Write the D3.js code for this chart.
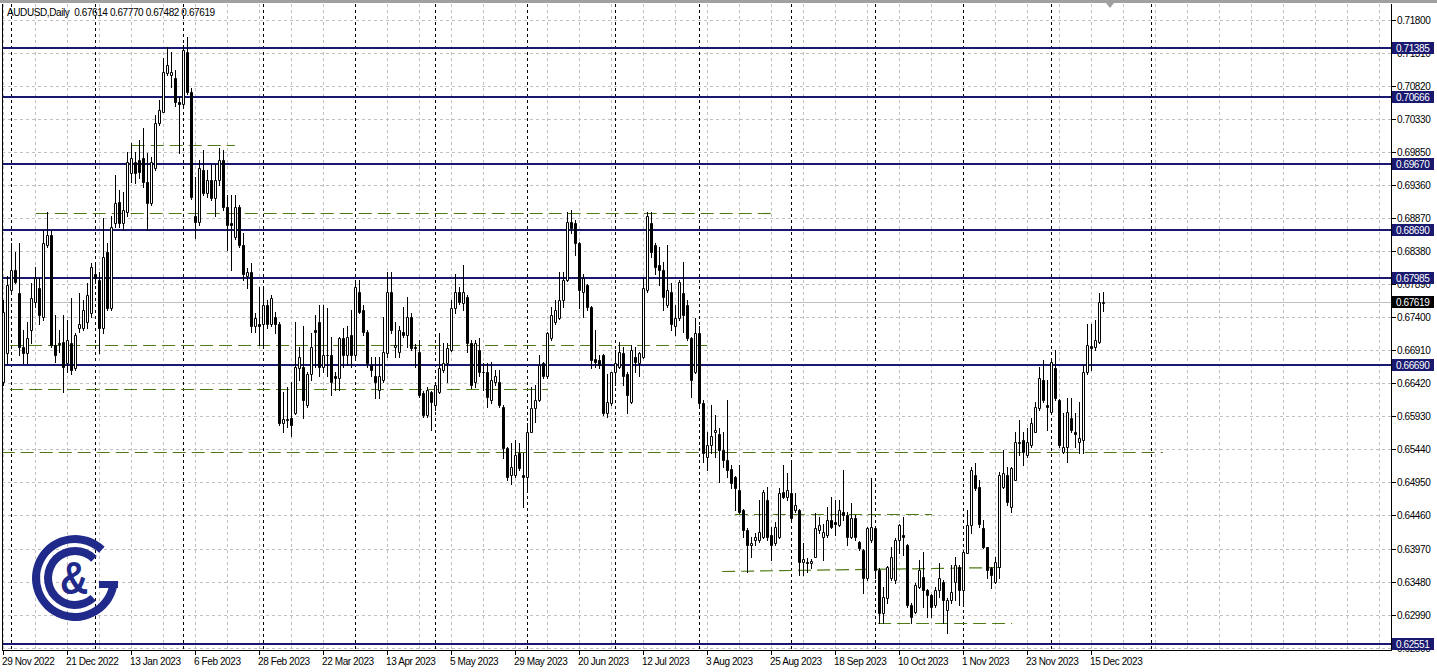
<!DOCTYPE html>
<html><head><meta charset="utf-8">
<script src="https://cdn.jsdelivr.net/npm/d3@7"></script>
<style>
html,body{margin:0;padding:0;background:#fff;overflow:hidden}
svg{display:block}
text{font-family:"Liberation Sans",Arial,sans-serif;font-size:10px;letter-spacing:-0.4px}
</style></head><body>
<svg id="c" width="1437" height="672"></svg>
<script>
// ---------- DATA ----------
const title = "AUDUSD,Daily  0.67614 0.67770 0.67482 0.67619";
const openP = [.6643,.6687,.6780,.6810,.6776,.6696,.6687,.6721,.6762,.6783,
 .6740,.6847,.6862,.6699,.6702,.6703,.6672,.6702,.6664,.6724,
 .6724,.6732,.6746,.6803,.6795,.6724,.6836,.6753,.6880,.6910,
 .6880,.6895,.6954,.6969,.6973,.6975,.6940,.6909,.6961,.7028,
 .7044,.7102,.7099,.7094,.7058,.7055,.7133,.7073,.6889,.6881,
 .6958,.6924,.6943,.6916,.6943,.6973,.6903,.6880,.6859,.6903,
 .6847,.6800,.6806,.6726,.6729,.6729,.6758,.6729,.6740,.6729,
 .6583,.6589,.6590,.6598,.6664,.6666,.6610,.6655,.6721,.6732,
 .6666,.6684,.6684,.6652,.6650,.6709,.6684,.6714,.6684,.6777,
 .6750,.6718,.6669,.6652,.6632,.6647,.6687,.6777,.6696,.6688,
 .6718,.6714,.6740,.6696,.6688,.6628,.6595,.6629,.6610,.6629,
 .6662,.6672,.6691,.6753,.6777,.6761,.6770,.6702,.6643,.6691,
 .6659,.6659,.6617,.6643,.6644,.6607,.6546,.6506,.6506,.6539,
 .6506,.6503,.6570,.6605,.6617,.6672,.6652,.6709,.6732,.6738,
 .6765,.6795,.6881,.6880,.6850,.6777,.6788,.6755,.6678,.6676,
 .6684,.6598,.6613,.6659,.6666,.6687,.6655,.6614,.6681,.6672,
 .6681,.6780,.6880,.6847,.6817,.6810,.6758,.6777,.6726,.6738,
 .6776,.6758,.6709,.6658,.6717,.6613,.6533,.6551,.6569,.6566,
 .6543,.6528,.6515,.6503,.6484,.6454,.6424,.6402,.6410,.6410,
 .6414,.6469,.6417,.6405,.6414,.6481,.6473,.6479,.6454,.6454,
 .6377,.6377,.6376,.6385,.6424,.6414,.6417,.6439,.6436,.6432,
 .6451,.6447,.6414,.6442,.6407,.6395,.6353,.6410,.6427,.6365,
 .6302,.6324,.6353,.6350,.6410,.6417,.6402,.6313,.6303,.6340,
 .6355,.6336,.6328,.6313,.6336,.6347,.6306,.6321,.6347,.6370,
 .6336,.6391,.6432,.6506,.6488,.6427,.6399,.6368,.6347,.6370,
 .6488,.6506,.6459,.6499,.6555,.6558,.6536,.6551,.6570,.6605,
 .6647,.6610,.6599,.6664,.6617,.6540,.6548,.6590,.6569,.6555,
 .6558,.6658,.6697,.6696,.6703,.67614];
const highP = [.6765,.6800,.6850,.6836,.6850,.6721,.6732,.6791,.6814,.6798,
 .6869,.6895,.6869,.6743,.6721,.6743,.6736,.6768,.6717,.6776,
 .6765,.6791,.6820,.6817,.6806,.6887,.6850,.6889,.6951,.6928,
 .6925,.6984,.6998,.6984,.7002,.7020,.6983,.6977,.7040,.7062,
 .7124,.7140,.7132,.7106,.7066,.7143,.7155,.7079,.6948,.6973,
 .6987,.6958,.6966,.6966,.6990,.6987,.6921,.6921,.6921,.6906,
 .6865,.6812,.6820,.6746,.6785,.6785,.6765,.6773,.6747,.6732,
 .6629,.6637,.6643,.6732,.6696,.6726,.6659,.6717,.6743,.6758,
 .6758,.6753,.6711,.6658,.6711,.6724,.6726,.6750,.6795,.6795,
 .6758,.6721,.6681,.6681,.6681,.6740,.6806,.6806,.6732,.6726,
 .6755,.6770,.6746,.6700,.6706,.6630,.6637,.6631,.6643,.6717,
 .6702,.6702,.6765,.6803,.6785,.6817,.6773,.6706,.6706,.6709,
 .6672,.6672,.6673,.6662,.6662,.6610,.6547,.6554,.6558,.6554,
 .6539,.6583,.6637,.6640,.6684,.6673,.6718,.6755,.6765,.6807,
 .6807,.6895,.6899,.6884,.6851,.6803,.6789,.6756,.6721,.6684,
 .6685,.6655,.6659,.6691,.6703,.6696,.6658,.6699,.6696,.6688,
 .6798,.6895,.6895,.6850,.6844,.6821,.6847,.6791,.6758,.6795,
 .6821,.6765,.6711,.6738,.6726,.6617,.6569,.6610,.6595,.6576,
 .6570,.6617,.6521,.6504,.6521,.6455,.6427,.6414,.6420,.6469,
 .6484,.6488,.6429,.6436,.6487,.6521,.6509,.6524,.6479,.6455,
 .6405,.6383,.6381,.6450,.6444,.6434,.6459,.6473,.6469,.6469,
 .6513,.6451,.6464,.6447,.6408,.6396,.6429,.6502,.6428,.6368,
 .6340,.6371,.6399,.6413,.6434,.6444,.6403,.6316,.6346,.6380,
 .6392,.6337,.6329,.6340,.6376,.6351,.6324,.6373,.6385,.6373,
 .6395,.6454,.6518,.6524,.6499,.6439,.6400,.6370,.6385,.6510,
 .6543,.6518,.6518,.6569,.6587,.6570,.6576,.6590,.6614,.6666,
 .6676,.6647,.6676,.6691,.6618,.6598,.6620,.6620,.6598,.6614,
 .6669,.6729,.6729,.6736,.6776,.67770];
const lowP = [.6640,.6672,.6777,.6790,.6684,.6672,.6672,.6702,.6755,.6729,
 .6736,.6844,.6696,.6673,.6688,.6629,.6659,.6655,.6662,.6718,
 .6721,.6724,.6740,.6791,.6687,.6717,.6750,.6750,.6874,.6874,
 .6869,.6889,.6940,.6939,.6946,.6933,.6869,.6906,.6958,.7025,
 .7043,.7099,.7081,.7052,.6983,.7052,.7070,.6915,.6857,.6877,
 .6921,.6918,.6913,.6889,.6936,.6899,.6839,.6810,.6856,.6844,
 .6795,.6783,.6718,.6718,.6699,.6694,.6724,.6726,.6717,.6580,
 .6569,.6577,.6563,.6596,.6647,.6590,.6607,.6647,.6666,.6652,
 .6658,.6652,.6625,.6632,.6632,.6666,.6669,.6666,.6681,.6746,
 .6714,.6666,.6652,.6620,.6620,.6644,.6681,.6717,.6681,.6681,
 .6711,.6696,.6691,.6666,.6622,.6592,.6592,.6573,.6602,.6628,
 .6658,.6643,.6690,.6746,.6760,.6750,.6688,.6635,.6637,.6652,
 .6632,.6607,.6613,.6640,.6607,.6531,.6499,.6492,.6503,.6513,
 .6459,.6481,.6569,.6584,.6616,.6650,.6650,.6706,.6729,.6737,
 .6755,.6794,.6865,.6832,.6753,.6740,.6750,.6664,.6666,.6664,
 .6595,.6592,.6610,.6640,.6664,.6640,.6598,.6613,.6658,.6652,
 .6679,.6777,.6829,.6803,.6788,.6750,.6755,.6721,.6714,.6736,
 .6718,.6706,.6622,.6657,.6610,.6525,.6513,.6539,.6533,.6496,
 .6518,.6503,.6487,.6454,.6450,.6414,.6362,.6385,.6402,.6407,
 .6413,.6410,.6380,.6402,.6413,.6472,.6469,.6441,.6451,.6358,
 .6358,.6362,.6368,.6384,.6420,.6380,.6414,.6427,.6417,.6431,
 .6439,.6402,.6413,.6410,.6395,.6331,.6350,.6407,.6353,.6287,
 .6287,.6317,.6350,.6346,.6391,.6388,.6310,.6287,.6302,.6338,
 .6310,.6295,.6295,.6310,.6325,.6287,.6272,.6317,.6321,.6313,
 .6317,.6390,.6420,.6484,.6429,.6398,.6353,.6338,.6346,.6353,
 .6487,.6462,.6451,.6498,.6536,.6521,.6533,.6548,.6569,.6602,
 .6614,.6573,.6598,.6617,.6548,.6539,.6525,.6569,.6548,.6539,
 .6539,.6655,.6662,.6691,.6702,.67482];
const closeP = [.6747,.6788,.6810,.6792,.6696,.6687,.6709,.6768,.6798,.6743,
 .6850,.6862,.6699,.6684,.6700,.6666,.6706,.6662,.6714,.6729,
 .6750,.6773,.6814,.6798,.6724,.6829,.6753,.6874,.6909,.6880,
 .6899,.6969,.6975,.6954,.6955,.6940,.6909,.6969,.7028,.7047,
 .7103,.7114,.7103,.7059,.7055,.7136,.7073,.6918,.6881,.6961,
 .6924,.6943,.6916,.6943,.6973,.6903,.6877,.6877,.6903,.6847,
 .6803,.6807,.6726,.6738,.6726,.6758,.6729,.6768,.6729,.6583,
 .6589,.6587,.6580,.6666,.6681,.6617,.6655,.6696,.6718,.6666,
 .6684,.6683,.6644,.6649,.6709,.6684,.6711,.6684,.6785,.6747,
 .6718,.6672,.6662,.6643,.6652,.6688,.6777,.6721,.6699,.6721,
 .6714,.6740,.6694,.6694,.6625,.6595,.6632,.6614,.6640,.6664,
 .6672,.6694,.6753,.6777,.6762,.6777,.6702,.6640,.6702,.6658,
 .6658,.6622,.6647,.6652,.6610,.6546,.6503,.6518,.6536,.6516,
 .6503,.6570,.6605,.6617,.6669,.6652,.6717,.6743,.6750,.6765,
 .6795,.6881,.6872,.6850,.6780,.6798,.6755,.6676,.6673,.6669,
 .6598,.6614,.6658,.6672,.6688,.6652,.6625,.6691,.6673,.6687,
 .6783,.6889,.6836,.6814,.6810,.6770,.6780,.6729,.6738,.6792,
 .6743,.6709,.6647,.6717,.6613,.6539,.6551,.6563,.6573,.6543,
 .6528,.6513,.6494,.6487,.6451,.6424,.6402,.6405,.6414,.6421,
 .6481,.6414,.6402,.6429,.6479,.6473,.6484,.6442,.6462,.6377,
 .6382,.6376,.6378,.6427,.6432,.6421,.6439,.6429,.6434,.6454,
 .6447,.6414,.6442,.6414,.6398,.6353,.6427,.6429,.6365,.6302,
 .6325,.6370,.6385,.6410,.6432,.6414,.6313,.6295,.6343,.6365,
 .6336,.6328,.6310,.6336,.6353,.6321,.6321,.6333,.6373,.6336,
 .6392,.6432,.6513,.6487,.6434,.6399,.6365,.6358,.6377,.6506,
 .6509,.6466,.6516,.6555,.6554,.6540,.6555,.6583,.6607,.6650,
 .6617,.6607,.6673,.6620,.6551,.6548,.6599,.6573,.6566,.6561,
 .6659,.6699,.6694,.6706,.6762,.67619];

const priceTicks = [0.71800,0.71310,0.70820,0.70330,0.69850,0.69360,0.68870,0.68380,0.67890,0.67400,
  0.66910,0.66420,0.65930,0.65440,0.64950,0.64460,0.63970,0.63480,0.62990,0.62500];
const priceTickLabels = ["0.71800","0.71310","0.70820","0.70330","0.69850","0.69360","0.68870","0.68380","0.67890","0.67400",
  "0.66910","0.66420","0.65930","0.65440","0.64950","0.64460","0.63970","0.63480","0.62990","0.62500"];
const levelPrices = [0.71385,0.70666,0.69670,0.68690,0.67985,0.66690,0.62551];
const levelLabels = ["0.71385","0.70666","0.69670","0.68690","0.67985","0.66690","0.62551"];
const lastPrice = 0.67619, lastLabel = "0.67619";

const dateTickIdx = [0,16,32,48,64,80,96,112,128,144,160,176,192,208,224,240,256,272];
const dateTickLabels = ["29 Nov 2022","21 Dec 2022","13 Jan 2023","6 Feb 2023","28 Feb 2023","22 Mar 2023",
  "13 Apr 2023","5 May 2023","29 May 2023","20 Jun 2023","12 Jul 2023","3 Aug 2023","25 Aug 2023",
  "18 Sep 2023","10 Oct 2023","1 Nov 2023","23 Nov 2023","15 Dec 2023"];
const monthStartIdx = [2,23,45,65,88,108,131,153,174,197,218,240,262,287];

// support / resistance (dashed green) : start bar, end bar, start price, end price
const srStartIdx = [8, 32, 1.6, 1.6, -0.5, 182.8, 179.6, 218.6];
const srEndIdx   = [192.3, 57.8, 176.6, 136, 289.8, 232.1, 249.6, 252.1];
const srStartP   = [0.68936, 0.69948, 0.66985, 0.66333, 0.65407, 0.64477, 0.63637, 0.62862];
const srEndP     = [0.68936, 0.69948, 0.66985, 0.66333, 0.65407, 0.64477, 0.63700, 0.62862];

// ---------- LAYOUT ----------
const W = 1437, H = 672;
const plotL = 2, plotR = 1391, plotT = 4, plotB = 650;
const x = d3.scaleLinear().domain([0, 1]).range([3.7, 7.7]);
const y = d3.scaleLinear().domain([0.718, 0.674]).range([20, 317]);
const col = i => Math.floor(x(i));
const ry = v => Math.round(y(v));

const svg = d3.select('#c');
svg.append('rect').attr('width', W).attr('height', H).attr('fill', '#fff');
svg.append('rect').attr('x', 0).attr('y', 0).attr('width', W).attr('height', 3).attr('fill', '#a0a0a0');

svg.append('clipPath').attr('id', 'clip').append('rect')
  .attr('x', plotL).attr('y', plotT).attr('width', plotR - plotL).attr('height', plotB - plotT);
const g = svg.append('g').attr('clip-path', 'url(#clip)');

// grid
g.append('g').selectAll('line').data(priceTicks).join('line')
  .attr('x1', plotL).attr('x2', plotR)
  .attr('y1', d => ry(d) + 0.5).attr('y2', d => ry(d) + 0.5)
  .attr('stroke', '#c0c0c0').attr('stroke-dasharray', '3,3');
const maxIdx = Math.ceil(x.invert(plotR));
g.append('g').selectAll('line').data(d3.range(0, maxIdx, 8)).join('line')
  .attr('x1', d => col(d) + 0.5).attr('x2', d => col(d) + 0.5)
  .attr('y1', plotT).attr('y2', plotB)
  .attr('stroke', '#c0c0c0').attr('stroke-dasharray', '3,3');
// period separators
g.append('g').selectAll('line').data(monthStartIdx).join('line')
  .attr('x1', d => col(d) + 0.5).attr('x2', d => col(d) + 0.5)
  .attr('y1', plotT).attr('y2', plotB)
  .attr('stroke', '#000').attr('stroke-dasharray', '3,3');

// logo
const logoColor = '#1f2a8a';
const logo = svg.append('g').attr('transform', 'translate(75,578)').attr('fill', logoColor);
const arc = d3.arc();
logo.append('path').attr('d', arc({innerRadius: 35, outerRadius: 43, startAngle: Math.PI / 2 + 0.1, endAngle: 2 * Math.PI + 0.76}));
logo.append('rect').attr('x', 24).attr('y', 3).attr('width', 19).attr('height', 7);
logo.append('path').attr('d', arc({innerRadius: 23, outerRadius: 31, startAngle: 2.4, endAngle: 2 * Math.PI + 0.78}));
logo.append('text').attr('transform', 'translate(-1,16) scale(0.85,1)').attr('text-anchor', 'middle')
  .style('font-size', '46px').style('font-weight', 'bold').style('letter-spacing', '0')
  .attr('fill', logoColor).text('&');

// current price line
g.append('line').attr('x1', plotL).attr('x2', plotR)
  .attr('y1', ry(lastPrice) + 0.5).attr('y2', ry(lastPrice) + 0.5).attr('stroke', '#c0c0c0');

// green S/R dashed lines
g.append('g').selectAll('line').data(srStartIdx).join('line')
  .attr('x1', (d, i) => x(d)).attr('x2', (d, i) => x(srEndIdx[i]))
  .attr('y1', (d, i) => ry(srStartP[i]) + 0.5).attr('y2', (d, i) => ry(srEndP[i]) + 0.5)
  .attr('stroke', '#4f7a16').attr('stroke-width', 1.2).attr('stroke-dasharray', '13,6');

// levels
g.append('g').selectAll('line').data(levelPrices).join('line')
  .attr('x1', plotL).attr('x2', plotR)
  .attr('y1', d => ry(d)).attr('y2', d => ry(d))
  .attr('stroke', '#191970').attr('stroke-width', 2);

// candles
const bars = openP.map((o, i) => ({i, o, h: highP[i], l: lowP[i], c: closeP[i]}));
const cg = g.append('g');
cg.selectAll('line').data(bars).join('line')
  .attr('x1', d => col(d.i) + 0.5).attr('x2', d => col(d.i) + 0.5)
  .attr('y1', d => ry(Math.max(d.h, d.o, d.c))).attr('y2', d => ry(Math.min(d.l, d.o, d.c)) + 1)
  .attr('stroke', '#000');
cg.selectAll('path').data(bars).join('path')
  .attr('d', d => {
    const t = ry(Math.max(d.o, d.c)) + 0.5, b = Math.max(ry(Math.min(d.o, d.c)) + 0.5, t);
    const x0 = col(d.i) - 0.5, x1 = col(d.i) + 1.5;
    return `M${x0},${t}H${x1}V${b}H${x0}Z`;
  })
  .attr('fill', d => d.c >= d.o ? '#fff' : '#000')
  .attr('stroke', '#000').attr('stroke-width', 1);

// frame
svg.append('line').attr('x1', plotL + 0.5).attr('x2', plotL + 0.5).attr('y1', plotT).attr('y2', plotB + 1).attr('stroke', '#000');
svg.append('line').attr('x1', plotR + 0.5).attr('x2', plotR + 0.5).attr('y1', plotT).attr('y2', plotB + 1).attr('stroke', '#000');
svg.append('line').attr('x1', plotL).attr('x2', plotR + 1).attr('y1', plotB + 0.5).attr('y2', plotB + 0.5).attr('stroke', '#000');

// chart shift marker
svg.append('path').attr('d', 'M1106,3L1114,3L1110,8Z').attr('fill', '#a0a0a0');

// title
svg.append('text').attr('x', 7).attr('y', 16).attr('fill', '#000').style('white-space', 'pre').text(title);

// price axis
const pa = svg.append('g');
pa.selectAll('line').data(priceTicks).join('line')
  .attr('x1', plotR + 1).attr('x2', plotR + 5)
  .attr('y1', d => ry(d) + 0.5).attr('y2', d => ry(d) + 0.5).attr('stroke', '#000');
pa.selectAll('text').data(priceTicks).join('text')
  .attr('x', 1397).attr('y', d => ry(d) + 4).attr('fill', '#000')
  .text((d, i) => priceTickLabels[i]);

// level labels
const ll = svg.append('g');
ll.selectAll('rect').data(levelPrices).join('rect')
  .attr('x', 1392).attr('y', d => ry(d) - 6).attr('width', 42).attr('height', 12).attr('fill', '#191970');
ll.selectAll('text').data(levelPrices).join('text')
  .attr('x', 1396).attr('y', d => ry(d) + 4).attr('fill', '#fff').text((d, i) => levelLabels[i]);
svg.append('rect').attr('x', 1392).attr('y', ry(lastPrice) - 6).attr('width', 42).attr('height', 12).attr('fill', '#000');
svg.append('text').attr('x', 1396).attr('y', ry(lastPrice) + 4).attr('fill', '#fff').text(lastLabel);

// date axis
const da = svg.append('g');
da.selectAll('line').data(dateTickIdx).join('line')
  .attr('x1', d => col(d) + 0.5).attr('x2', d => col(d) + 0.5)
  .attr('y1', plotB).attr('y2', plotB + 5).attr('stroke', '#000');
da.selectAll('text').data(dateTickIdx).join('text')
  .attr('x', d => col(d) - 1).attr('y', 665).attr('fill', '#000')
  .text((d, i) => dateTickLabels[i]);
</script>
</body></html>
